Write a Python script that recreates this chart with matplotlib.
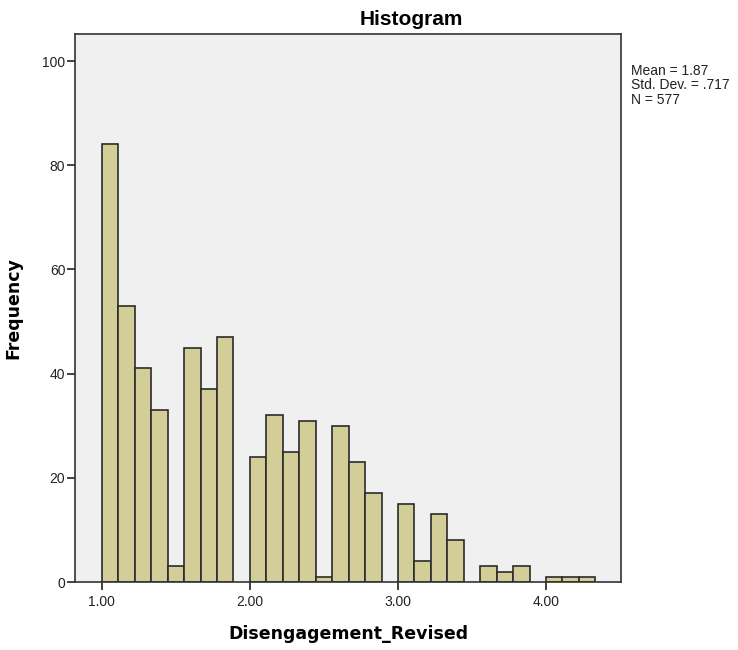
import numpy as np
import matplotlib
matplotlib.use("Agg")
import matplotlib.pyplot as plt

plt.rcParams["font.family"] = ["Liberation Sans", "DejaVu Sans"]

# ===============================
# DATA
# ===============================
bin_start = 1.0
bin_width = 1.0 / 9.0
counts = [84, 53, 41, 33, 3, 45, 37, 47, 0,
          24, 32, 25, 31, 1, 30, 23, 17, 0,
          15, 4, 13, 8, 0, 3, 2, 3, 0,
          1, 1, 1]
x_ticks = [1.0, 2.0, 3.0, 4.0]
x_tick_labels = ["1.00", "2.00", "3.00", "4.00"]
y_ticks = [0, 20, 40, 60, 80, 100]
stats_text = "Mean = 1.87\nStd. Dev. = .717\nN = 577"

# ===============================
# PLOT
# ===============================
W, H = 738, 650
fig = plt.figure(figsize=(W / 100, H / 100), dpi=100)
ax = fig.add_axes([75 / W, 1 - 582 / H, (621 - 75) / W, (582 - 34) / H])
ax.set_facecolor("#F0F0F0")

edges = bin_start + bin_width * np.arange(len(counts))
for left, c in zip(edges, counts):
    if c > 0:
        ax.bar(left, c, width=bin_width, align="edge",
               color="#D3CE97", edgecolor="#2b2b2b", linewidth=1.2)

ax.set_xlim(0.818, 4.507)
ax.set_ylim(0, 105.2)
ax.set_xticks(x_ticks)
ax.set_xticklabels(x_tick_labels)
ax.set_yticks(y_ticks)
ax.tick_params(direction="out", length=6, width=1.2, labelsize=10,
               colors="#222222")
ax.tick_params(axis="y", pad=1)
ax.tick_params(axis="x", pad=3)

for side in ax.spines.values():
    side.set_color("#333333")
    side.set_linewidth(1.2)

# labels (SPSS style: verdana-like bold axis titles)
ax.set_xlabel("Disengagement_Revised", fontsize=12.5, fontweight="bold",
              family="DejaVu Sans", labelpad=12)
ax.set_ylabel("Frequency", fontsize=12.5, fontweight="bold",
              family="DejaVu Sans", labelpad=14)

fig.text(411 / W, 1 - 25 / H, "Histogram", fontsize=15, fontweight="bold",
         ha="center", va="baseline")

fig.text(631 / W, 1 - 64 / H, stats_text, fontsize=10, va="top",
         ha="left", linespacing=1.03, color="#222222")

fig.savefig("out.png", dpi=100)
